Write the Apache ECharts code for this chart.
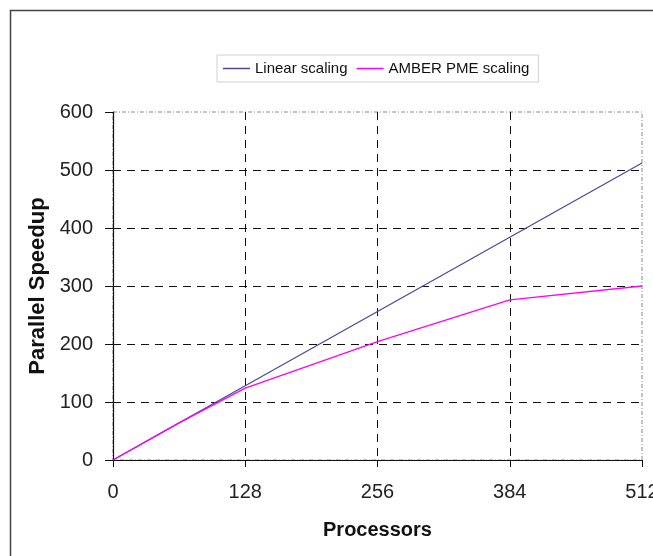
<!DOCTYPE html>
<html>
<head>
<meta charset="utf-8">
<script src="https://cdn.jsdelivr.net/npm/echarts@6/dist/echarts.min.js"></script>
<style>
html,body{margin:0;padding:0;background:#fff;}
#chart{width:653px;height:556px;}
</style>
</head>
<body>
<div id="chart"></div>
<script>
// Data
const processors = [0, 64, 128, 256, 384, 512];
const linearScaling = [0, 64, 128, 256, 384, 512];
const amberPmeScaling = [0, 64, 124, 204, 276, 300];
const seriesNames = ['Linear scaling', 'AMBER PME scaling'];
const xTicks = [0, 128, 256, 384, 512];
const yTicks = [0, 100, 200, 300, 400, 500, 600];

const chart = echarts.init(document.getElementById('chart'), null, {renderer: 'canvas'});
const font = '"Liberation Sans", Arial, sans-serif';

const option = {
  animation: false,
  backgroundColor: '#fff',
  graphic: [{
    type: 'rect',
    shape: {x: 10.5, y: 10.5, width: 700, height: 600},
    style: {fill: 'none', stroke: '#444', lineWidth: 1.5},
    silent: true,
    z: 100
  }],
  legend: {
    data: seriesNames,
    left: 217,
    top: 55,
    padding: [6, 9, 6, 6],
    itemGap: 9,
    itemWidth: 27,
    itemHeight: 1.5,
    icon: 'rect',
    borderColor: '#d0d0d0',
    borderWidth: 1,
    textStyle: {fontFamily: font, fontSize: 15, color: '#111'}
  },
  grid: {
    left: 113, right: 11, top: 112, bottom: 96,
    outerBoundsMode: 'none',
    containLabel: false,
    show: true,
    borderColor: '#888',
    borderWidth: 1,
    borderType: [4, 2, 1, 2]
  },
  xAxis: {
    type: 'value',
    min: xTicks[0],
    max: xTicks[xTicks.length - 1],
    interval: 128,
    name: 'Processors',
    nameLocation: 'middle',
    nameGap: 60,
    nameTextStyle: {fontFamily: font, fontSize: 20, fontWeight: 'bold', color: '#111'},
    axisLine: {show: true, onZero: false, lineStyle: {color: '#111', width: 1.2}},
    axisTick: {show: true, length: 7, inside: false, lineStyle: {color: '#111'}},
    axisLabel: {fontFamily: font, fontSize: 20, color: '#222', margin: 22, hideOverlap: false},
    splitLine: {show: true, showMinLine: false, showMaxLine: false, lineStyle: {color: '#111', type: [8, 6], width: 1}}
  },
  yAxis: {
    type: 'value',
    min: yTicks[0],
    max: yTicks[yTicks.length - 1],
    interval: 100,
    name: 'Parallel Speedup',
    nameLocation: 'middle',
    nameGap: 62,
    nameTextStyle: {fontFamily: font, fontSize: 22, fontWeight: 'bold', color: '#111'},
    axisLine: {show: true, onZero: false, lineStyle: {color: '#111', width: 1.2}},
    axisTick: {show: true, length: 8, inside: false, lineStyle: {color: '#111'}},
    axisLabel: {fontFamily: font, fontSize: 20, color: '#222', margin: 20},
    splitLine: {show: true, showMinLine: false, showMaxLine: false, lineStyle: {color: '#111', type: [8, 6], width: 1}}
  },
  series: [
    {
      name: seriesNames[0],
      type: 'line',
      data: processors.map((p, i) => [p, linearScaling[i]]),
      showSymbol: false,
      symbol: 'none',
      color: '#4B4B9E',
      lineStyle: {color: '#4B4B9E', width: 1.3},
      z: 3
    },
    {
      name: seriesNames[1],
      type: 'line',
      data: processors.map((p, i) => [p, amberPmeScaling[i]]),
      showSymbol: false,
      symbol: 'none',
      color: '#FF00FF',
      lineStyle: {color: '#FF00FF', width: 1.3},
      z: 4
    }
  ]
};
chart.setOption(option);
</script>
</body>
</html>
